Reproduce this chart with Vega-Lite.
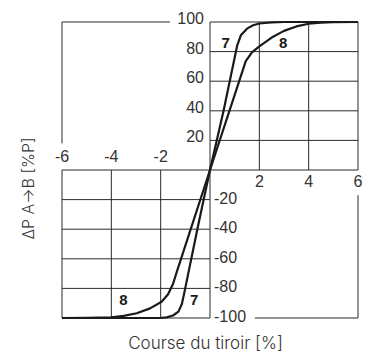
{
  "$schema": "https://vega.github.io/schema/vega-lite/v6.json",
  "width": 296,
  "height": 296,
  "autosize": "none",
  "padding": {"left": 62, "top": 22, "right": 8, "bottom": 38},
  "background": "white",
  "config": {
    "view": {"stroke": null},
    "font": "Liberation Sans",
    "axis": {"domain": false, "ticks": false, "labels": false, "grid": false,
             "titleFont": "Inter", "titleFontSize": 16, "titleFontWeight": 300, "titleColor": "#333"}
  },
  "datasets": {
    "frame": [
      {"x": 2, "y": 0, "x2": 2, "y2": 100},
      {"x": 4, "y": 0, "x2": 4, "y2": 100},
      {"x": 6, "y": 0, "x2": 6, "y2": 100},
      {"x": 0, "y": 20, "x2": 6, "y2": 20},
      {"x": 0, "y": 40, "x2": 6, "y2": 40},
      {"x": 0, "y": 60, "x2": 6, "y2": 60},
      {"x": 0, "y": 80, "x2": 6, "y2": 80},
      {"x": 0, "y": 100, "x2": 6, "y2": 100},
      {"x": -6, "y": -100, "x2": -6, "y2": 0},
      {"x": -4, "y": -100, "x2": -4, "y2": 0},
      {"x": -2, "y": -100, "x2": -2, "y2": 0},
      {"x": -6, "y": -20, "x2": 0, "y2": -20},
      {"x": -6, "y": -40, "x2": 0, "y2": -40},
      {"x": -6, "y": -60, "x2": 0, "y2": -60},
      {"x": -6, "y": -80, "x2": 0, "y2": -80},
      {"x": -6, "y": -100, "x2": 0, "y2": -100},
      {"x": -6, "y": 100, "x2": -1.62, "y2": 100},
      {"x": -6, "y": 18, "x2": -6, "y2": 100},
      {"x": 6, "y": -17, "x2": 6, "y2": -100},
      {"x": 1.82, "y": -100, "x2": 6, "y2": -100},
      {"x": -6, "y": 0, "x2": 6, "y2": 0},
      {"x": 0, "y": -100, "x2": 0, "y2": 100}
    ],
    "curves": [
      {"valve": "7", "x": -6, "y": -100},
      {"valve": "7", "x": -2.05, "y": -100},
      {"valve": "7", "x": -1.76, "y": -99.6},
      {"valve": "7", "x": -1.5, "y": -98.3},
      {"valve": "7", "x": -1.28, "y": -95.7},
      {"valve": "7", "x": -1.14, "y": -90.5},
      {"valve": "7", "x": -1.03, "y": -82},
      {"valve": "7", "x": -0.5, "y": -39},
      {"valve": "7", "x": 0, "y": 0},
      {"valve": "7", "x": 0.55, "y": 40},
      {"valve": "7", "x": 1.1, "y": 84},
      {"valve": "7", "x": 1.25, "y": 91},
      {"valve": "7", "x": 1.5, "y": 95.5},
      {"valve": "7", "x": 1.75, "y": 97.8},
      {"valve": "7", "x": 2, "y": 99},
      {"valve": "7", "x": 2.5, "y": 99.8},
      {"valve": "7", "x": 3, "y": 100},
      {"valve": "7", "x": 6, "y": 100},
      {"valve": "8", "x": -6, "y": -100},
      {"valve": "8", "x": -5, "y": -99.9},
      {"valve": "8", "x": -4, "y": -99.5},
      {"valve": "8", "x": -3.5, "y": -98.6},
      {"valve": "8", "x": -2.97, "y": -96.8},
      {"valve": "8", "x": -2.43, "y": -93.5},
      {"valve": "8", "x": -1.96, "y": -89},
      {"valve": "8", "x": -1.7, "y": -84},
      {"valve": "8", "x": -1.5, "y": -77},
      {"valve": "8", "x": -1.33, "y": -68},
      {"valve": "8", "x": 0, "y": 0},
      {"valve": "8", "x": 1.3, "y": 66},
      {"valve": "8", "x": 1.45, "y": 73.5},
      {"valve": "8", "x": 1.7, "y": 79.5},
      {"valve": "8", "x": 2, "y": 83.5},
      {"valve": "8", "x": 2.5, "y": 89.5},
      {"valve": "8", "x": 3, "y": 94},
      {"valve": "8", "x": 3.5, "y": 97},
      {"valve": "8", "x": 4, "y": 98.8},
      {"valve": "8", "x": 4.5, "y": 99.6},
      {"valve": "8", "x": 5, "y": 99.9},
      {"valve": "8", "x": 6, "y": 100}
    ],
    "ticks": [
      {"side": "yTop", "x": 0, "y": 100, "label": "100"},
      {"side": "yTop", "x": 0, "y": 80, "label": "80"},
      {"side": "yTop", "x": 0, "y": 60, "label": "60"},
      {"side": "yTop", "x": 0, "y": 40, "label": "40"},
      {"side": "yTop", "x": 0, "y": 20, "label": "20"},
      {"side": "yBottom", "x": 0, "y": -20, "label": "-20"},
      {"side": "yBottom", "x": 0, "y": -40, "label": "-40"},
      {"side": "yBottom", "x": 0, "y": -60, "label": "-60"},
      {"side": "yBottom", "x": 0, "y": -80, "label": "-80"},
      {"side": "yBottom", "x": 0, "y": -100, "label": "-100"},
      {"side": "xTop", "x": -6, "y": 0, "label": "-6"},
      {"side": "xTop", "x": -4, "y": 0, "label": "-4"},
      {"side": "xTop", "x": -2, "y": 0, "label": "-2"},
      {"side": "xBottom", "x": 2, "y": 0, "label": "2"},
      {"side": "xBottom", "x": 4, "y": 0, "label": "4"},
      {"side": "xBottom", "x": 6, "y": 0, "label": "6"}
    ],
    "tags": [
      {"x": 0.64, "y": 86, "label": "7"},
      {"x": 2.97, "y": 86, "label": "8"},
      {"x": -3.51, "y": -88, "label": "8"},
      {"x": -0.64, "y": -88, "label": "7"}
    ]
  },
  "layer": [
    {
      "data": {"name": "frame"},
      "mark": {"type": "rule", "color": "#2b2b2b", "strokeWidth": 1},
      "encoding": {
        "x": {"field": "x", "type": "quantitative",
              "scale": {"domain": [-6, 6], "nice": false, "zero": false},
              "axis": {"title": "Course du tiroir [%]", "titleFontSize": 17, "titlePadding": 17, "titleX": 143}},
        "y": {"field": "y", "type": "quantitative",
              "scale": {"domain": [-100, 100], "nice": false, "zero": false},
              "axis": {"title": "ΔP A→B [%P]", "titlePadding": 26, "titleY": 166}},
        "x2": {"field": "x2"},
        "y2": {"field": "y2"}
      }
    },
    {
      "data": {"name": "curves"},
      "mark": {"type": "line", "color": "#1a1a1a", "strokeWidth": 2.2, "strokeJoin": "round"},
      "encoding": {
        "x": {"field": "x", "type": "quantitative"},
        "y": {"field": "y", "type": "quantitative"},
        "detail": {"field": "valve"},
        "order": {"field": "x", "type": "quantitative"}
      }
    },
    {
      "data": {"name": "ticks"},
      "transform": [{"filter": "datum.side === 'yTop'"}],
      "mark": {"type": "text", "align": "right", "baseline": "middle", "dx": -6, "dy": -3, "fontSize": 16, "color": "#333"},
      "encoding": {
        "x": {"field": "x", "type": "quantitative"},
        "y": {"field": "y", "type": "quantitative"},
        "text": {"field": "label"}
      }
    },
    {
      "data": {"name": "ticks"},
      "transform": [{"filter": "datum.side === 'yBottom'"}],
      "mark": {"type": "text", "align": "left", "baseline": "middle", "dx": 4, "dy": -1, "fontSize": 16, "color": "#333"},
      "encoding": {
        "x": {"field": "x", "type": "quantitative"},
        "y": {"field": "y", "type": "quantitative"},
        "text": {"field": "label"}
      }
    },
    {
      "data": {"name": "ticks"},
      "transform": [{"filter": "datum.side === 'xTop'"}],
      "mark": {"type": "text", "align": "center", "baseline": "alphabetic", "dy": -8, "fontSize": 16, "color": "#333"},
      "encoding": {
        "x": {"field": "x", "type": "quantitative"},
        "y": {"field": "y", "type": "quantitative"},
        "text": {"field": "label"}
      }
    },
    {
      "data": {"name": "ticks"},
      "transform": [{"filter": "datum.side === 'xBottom'"}],
      "mark": {"type": "text", "align": "center", "baseline": "alphabetic", "dy": 17, "fontSize": 16, "color": "#333"},
      "encoding": {
        "x": {"field": "x", "type": "quantitative"},
        "y": {"field": "y", "type": "quantitative"},
        "text": {"field": "label"}
      }
    },
    {
      "data": {"name": "tags"},
      "mark": {"type": "text", "align": "center", "baseline": "middle", "fontSize": 15, "fontWeight": "bold", "color": "#1a1a1a"},
      "encoding": {
        "x": {"field": "x", "type": "quantitative"},
        "y": {"field": "y", "type": "quantitative"},
        "text": {"field": "label"}
      }
    }
  ]
}
